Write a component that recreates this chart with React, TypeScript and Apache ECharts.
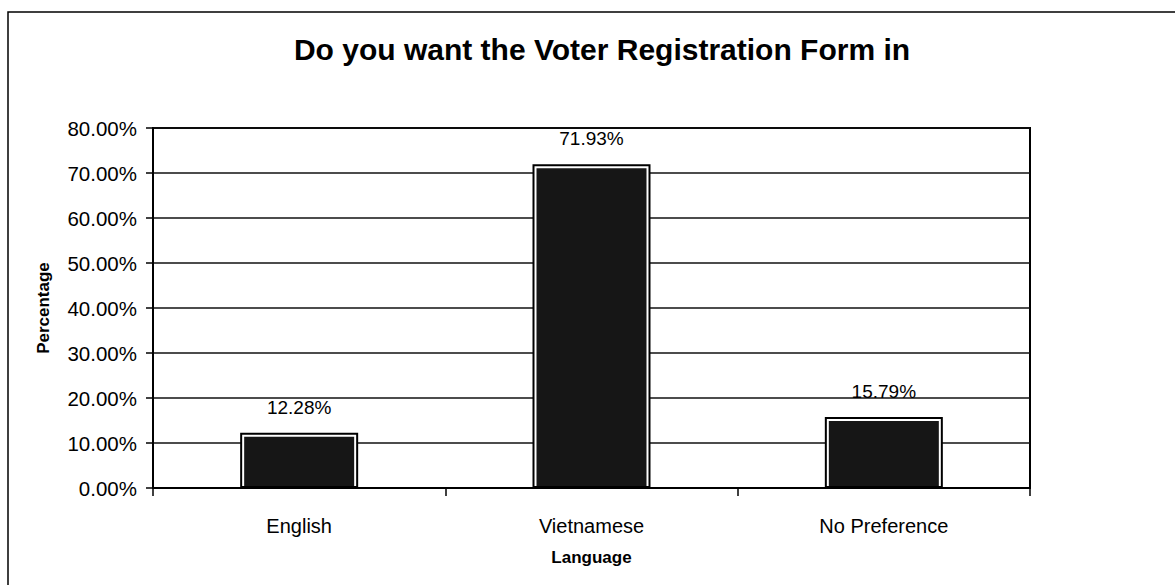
import React, { useEffect, useRef } from "react";
import * as echarts from "echarts";

const categories = ["English", "Vietnamese", "No Preference"];
const percentages = [12.28, 71.93, 15.79];
const yTicks = [0, 10, 20, 30, 40, 50, 60, 70, 80];

const FONT = "'Liberation Sans', Arial, Helvetica, sans-serif";

export default function App() {
  const ref = useRef<HTMLDivElement>(null);
  useEffect(() => {
    if (!ref.current) return;
    const chart = echarts.init(ref.current, null, { renderer: "svg" });
    const option: any = {
      animation: false,
      backgroundColor: "#ffffff",
      title: {
        text: "Do you want the Voter Registration Form in",
        left: 597,
        textAlign: "center",
        top: 29,
        textStyle: { fontFamily: FONT, fontSize: 30, fontWeight: "bold", color: "#000" },
      },
      graphic: [
        {
          type: "rect",
          shape: { x: 8, y: 12, width: 1200, height: 620 },
          style: { fill: "none", stroke: "#000", lineWidth: 1.5 },
          silent: true,
        },
      ],
      grid: {
        left: 153,
        top: 128,
        right: 145,
        bottom: 97,
        show: true,
        borderColor: "#000",
        borderWidth: 2,
        backgroundColor: "transparent",
      },
      xAxis: {
        type: "category",
        data: categories,
        name: "Language",
        nameLocation: "middle",
        nameGap: 61,
        nameTextStyle: { fontFamily: FONT, fontSize: 17, fontWeight: "bold", color: "#000", verticalAlign: "top" },
        axisLine: { show: true, lineStyle: { color: "#000", width: 2 } },
        axisTick: { show: true, alignWithLabel: false, length: 8, lineStyle: { color: "#000", width: 1.5 } },
        axisLabel: { fontFamily: FONT, fontSize: 20, color: "#000", margin: 28 },
        splitLine: { show: false },
      },
      yAxis: {
        type: "value",
        min: yTicks[0],
        max: yTicks[yTicks.length - 1],
        interval: 10,
        name: "Percentage",
        nameLocation: "middle",
        nameGap: 101,
        nameTextStyle: { fontFamily: FONT, fontSize: 17, fontWeight: "bold", color: "#000" },
        axisLine: { show: true, lineStyle: { color: "#000", width: 2 } },
        axisTick: { show: true, length: 7, lineStyle: { color: "#000", width: 1.5 } },
        axisLabel: {
          fontFamily: FONT,
          fontSize: 20.5,
          color: "#000",
          margin: 16,
          formatter: (v: number) => v.toFixed(2) + "%",
        },
        splitLine: { show: true, lineStyle: { color: "#111", width: 1.5 } },
      },
      series: [
        {
          type: "bar",
          data: percentages,
          barWidth: 118,
          itemStyle: { color: "#fff", borderColor: "#000", borderWidth: 2 },
          label: {
            show: true,
            position: "top",
            distance: 16,
            fontFamily: FONT,
            fontSize: 19,
            color: "#000",
            formatter: (p: any) => Number(p.value).toFixed(2) + "%",
          },
          z: 2,
        },
        {
          type: "custom",
          data: percentages.map((v, i) => [i, v]),
          z: 3,
          renderItem: (params: any, api: any) => {
            const idx = api.value(0);
            const val = api.value(1);
            const base = api.coord([idx, 0]);
            const top = api.coord([idx, val]);
            const w = 118;
            const inset = 4;
            return {
              type: "rect",
              shape: {
                x: base[0] - w / 2 + inset,
                y: top[1] + inset,
                width: w - inset * 2,
                height: Math.max(0, base[1] - top[1] - inset - 2),
              },
              style: { fill: "#161616" },
            };
          },
        },
      ],
    };
    chart.setOption(option);
    return () => chart.dispose();
  }, []);
  return (
    <div
      ref={ref}
      style={{ position: "fixed", left: 0, top: 0, width: 1175, height: 585, background: "#fff" }}
    />
  );
}
